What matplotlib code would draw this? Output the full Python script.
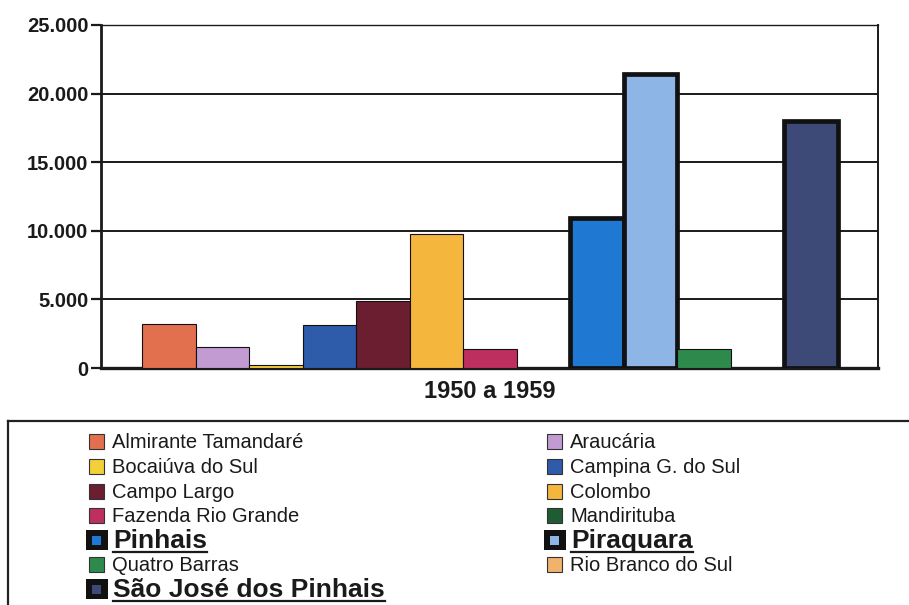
import matplotlib
matplotlib.use("Agg")
import matplotlib.pyplot as plt
from matplotlib.patches import Rectangle
from matplotlib.lines import Line2D
from matplotlib.ticker import FuncFormatter, MultipleLocator

# ---------------------------------------------------------------------------
# DATA
# ---------------------------------------------------------------------------
PERIOD = "1950 a 1959"
MUNICIPIOS = [
    "Almirante Tamandaré", "Araucária", "Bocaiúva do Sul", "Campina G. do Sul",
    "Campo Largo", "Colombo", "Fazenda Rio Grande", "Mandirituba",
    "Pinhais", "Piraquara", "Quatro Barras", "Rio Branco do Sul",
    "São José dos Pinhais",
]
VALORES = [3200, 1500, 250, 3100, 4850, 9750, 1400, 0,
           10900, 21450, 1400, 0, 18000]
CORES = ["#E2704F", "#C29BD2", "#F2D03A", "#2E5BAA", "#6A1E30", "#F4B63C",
         "#BE2F60", "#1F5C34", "#1F78D1", "#8DB5E6", "#2D8A4C", "#F0B36C",
         "#3D4A78"]
DESTAQUE = ["Pinhais", "Piraquara", "São José dos Pinhais"]

plt.rcParams["font.family"] = ["Liberation Sans", "DejaVu Sans"]

W, H = 909, 605
fig = plt.figure(figsize=(W / 100, H / 100), dpi=100)
fig.patch.set_facecolor("white")


def fx(x):
    return x / W


def fy(y):
    return 1 - y / H


# axes box in pixels: left 101, right 878, top 25, bottom 368
ax = fig.add_axes([fx(101), fy(368), (878 - 101) / W, (368 - 25) / H])

xs = list(range(len(MUNICIPIOS)))
for x, nome, v, c in zip(xs, MUNICIPIOS, VALORES, CORES):
    bold = nome in DESTAQUE
    ax.bar(x, v, width=1.0, color=c, edgecolor="#111111",
           linewidth=3.4 if bold else 0.8, zorder=3)

ax.set_xlim(-1.266, 13.247)
ax.set_ylim(0, 25000)
ax.yaxis.set_major_locator(MultipleLocator(5000))
ax.yaxis.set_major_formatter(
    FuncFormatter(lambda v, p: f"{int(v):,}".replace(",", ".")))
ax.grid(axis="y", color="#1a1a1a", linewidth=1.4, zorder=1)
ax.set_xticks([])
ax.set_xlabel(PERIOD, fontsize=17, fontweight="bold", labelpad=9,
              color="#1a1a1a")

for lab in ax.get_yticklabels():
    lab.set_fontweight("bold")
    lab.set_fontsize(14.5)
    lab.set_color("#1a1a1a")
ax.tick_params(axis="y", direction="out", length=7, width=1.6,
               color="#1a1a1a", pad=2)

ax.spines["left"].set_linewidth(2.0)
ax.spines["bottom"].set_linewidth(2.4)
ax.spines["top"].set_linewidth(1.0)
ax.spines["right"].set_linewidth(1.4)
for s in ax.spines.values():
    s.set_color("#1a1a1a")

# ---------------------------------------------------------------------------
# legend box (drawn by hand, runs off the right and bottom edges)
# ---------------------------------------------------------------------------
fig.add_artist(Line2D([fx(8), fx(912)], [fy(421), fy(421)],
                      color="#222222", lw=1.6))
fig.add_artist(Line2D([fx(8), fx(8)], [fy(421), fy(610)],
                      color="#222222", lw=1.6))

ROW_Y = [441, 466, 491, 515, 540, 564, 589]
COL_MARK = [96.5, 554.5]
COL_TEXT = [112, 570]

fig.canvas.draw()
renderer = fig.canvas.get_renderer()

for i, (nome, c) in enumerate(zip(MUNICIPIOS, CORES)):
    row, col = i // 2, i % 2
    y = ROW_Y[row]
    mx = COL_MARK[col]
    if nome in DESTAQUE:
        fig.add_artist(Rectangle((fx(mx - 11), fy(y + 10)), 22 / W, 20 / H,
                                 transform=fig.transFigure,
                                 facecolor="#111111", edgecolor="none"))
        fig.add_artist(Rectangle((fx(mx - 4.5), fy(y + 4.5)), 9 / W, 9 / H,
                                 transform=fig.transFigure,
                                 facecolor=c, edgecolor="none"))
        t = fig.text(fx(COL_TEXT[col] + 1), fy(y + 8), nome, fontsize=19,
                     fontweight="bold", va="baseline", ha="left",
                     color="#1a1a1a")
        bb = t.get_window_extent(renderer)
        uy = fy(y + 12)
        fig.add_artist(Line2D([bb.x0 / W, bb.x1 / W], [uy, uy],
                              color="#1a1a1a", lw=1.6))
    else:
        fig.add_artist(Rectangle((fx(mx - 7.5), fy(y + 7.5)), 15 / W, 15 / H,
                                 transform=fig.transFigure,
                                 facecolor=c, edgecolor="#333333", lw=0.8))
        fig.text(fx(COL_TEXT[col]), fy(y + 7), nome, fontsize=14.5,
                 va="baseline", ha="left", color="#1a1a1a")

fig.savefig("out.png", dpi=100, facecolor="white")
